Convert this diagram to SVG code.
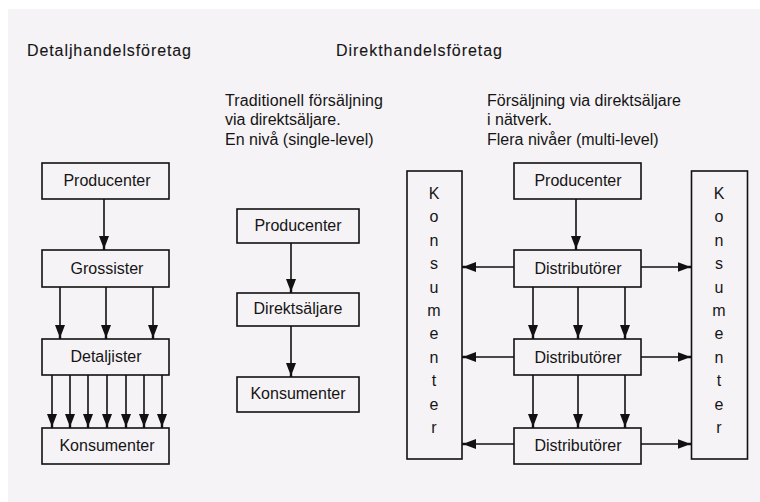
<svg xmlns="http://www.w3.org/2000/svg" width="760" height="502" viewBox="0 0 760 502">
<style>
.box{fill:none;stroke:#111;stroke-width:1.6}
.ln{fill:none;stroke:#111;stroke-width:1.6;marker-end:url(#ah)}
text{font-family:"Liberation Sans",Arial,sans-serif;font-size:16px;fill:#151515}
.c{text-anchor:middle}
.title{font-size:16px;stroke:#151515;stroke-width:0.1}
</style>
<defs>
<marker id="ah" viewBox="0 0 14 11" refX="14" refY="5.5" markerWidth="14" markerHeight="11" markerUnits="userSpaceOnUse" orient="auto">
<path d="M0,0.5 L10,4.3 L14,4.3 L14,6.7 L10,6.7 L0,10.5 Z" fill="#111"/>
</marker>
</defs>
<rect x="0" y="0" width="760" height="502" fill="#ffffff"/>
<rect x="8" y="9" width="752" height="493" fill="#f6f3f6"/>

<text class="title" x="27" y="56" textLength="164" lengthAdjust="spacing">Detaljhandelsföretag</text>
<text class="title" x="336" y="56" textLength="166" lengthAdjust="spacing">Direkthandelsföretag</text>

<g id="text-single">
<text x="225" y="106" textLength="158" lengthAdjust="spacing">Traditionell försäljning</text>
<text x="225" y="125">via direktsäljare.</text>
<text x="225" y="144.5">En nivå (single-level)</text>
</g>
<g id="text-multi">
<text x="487" y="106">Försäljning via direktsäljare</text>
<text x="487" y="124.5">i nätverk.</text>
<text x="487" y="145">Flera nivåer (multi-level)</text>
</g>

<g id="l-producenter"><rect class="box" x="42" y="163" width="127" height="36"/><text class="c" x="107" y="186">Producenter</text></g>
<g id="l-grossister"><rect class="box" x="42" y="250" width="127" height="37"/><text class="c" x="107" y="274">Grossister</text></g>
<g id="l-detaljister"><rect class="box" x="42" y="339" width="127" height="36"/><text class="c" x="106" y="362">Detaljister</text></g>
<g id="l-konsumenter"><rect class="box" x="42" y="428" width="127" height="36"/><text class="c" x="107" y="451">Konsumenter</text></g>

<g id="m-producenter"><rect class="box" x="237" y="209" width="122" height="34"/><text class="c" x="298" y="231">Producenter</text></g>
<g id="m-direktsaljare"><rect class="box" x="237" y="293" width="122" height="33"/><text class="c" x="298" y="314">Direktsäljare</text></g>
<g id="m-konsumenter"><rect class="box" x="237" y="377" width="122" height="35"/><text class="c" x="298" y="399">Konsumenter</text></g>

<g id="r-producenter"><rect class="box" x="514" y="163" width="127" height="36"/><text class="c" x="578" y="186">Producenter</text></g>
<g id="r-dist1"><rect class="box" x="514" y="250" width="127" height="37"/><text class="c" x="578" y="274">Distributörer</text></g>
<g id="r-dist2"><rect class="box" x="514" y="339" width="127" height="36"/><text class="c" x="578" y="363">Distributörer</text></g>
<g id="r-dist3"><rect class="box" x="514" y="428" width="127" height="36"/><text class="c" x="578" y="451">Distributörer</text></g>

<g id="r-konsumenter-left"><rect class="box" x="407" y="171" width="55" height="288"/>
<text class="c" x="434" y="199"><tspan x="434">K</tspan><tspan x="434" dy="23.4">o</tspan><tspan x="434" dy="23.4">n</tspan><tspan x="434" dy="23.4">s</tspan><tspan x="434" dy="23.4">u</tspan><tspan x="434" dy="23.4">m</tspan><tspan x="434" dy="23.4">e</tspan><tspan x="434" dy="23.4">n</tspan><tspan x="434" dy="23.4">t</tspan><tspan x="434" dy="23.4">e</tspan><tspan x="434" dy="23.4">r</tspan></text></g>
<g id="r-konsumenter-right"><rect class="box" x="691.5" y="171" width="56" height="288"/>
<text class="c" x="719" y="199"><tspan x="719">K</tspan><tspan x="719" dy="23.4">o</tspan><tspan x="719" dy="23.4">n</tspan><tspan x="719" dy="23.4">s</tspan><tspan x="719" dy="23.4">u</tspan><tspan x="719" dy="23.4">m</tspan><tspan x="719" dy="23.4">e</tspan><tspan x="719" dy="23.4">n</tspan><tspan x="719" dy="23.4">t</tspan><tspan x="719" dy="23.4">e</tspan><tspan x="719" dy="23.4">r</tspan></text></g>

<g id="connectors">
<path class="ln" d="M104,199 V250"/>
<path class="ln" d="M60,287 V339"/>
<path class="ln" d="M106,287 V339"/>
<path class="ln" d="M153,287 V339"/>
<path class="ln" d="M52,375 V428"/>
<path class="ln" d="M70,375 V428"/>
<path class="ln" d="M88,375 V428"/>
<path class="ln" d="M107,375 V428"/>
<path class="ln" d="M126,375 V428"/>
<path class="ln" d="M144,375 V428"/>
<path class="ln" d="M162,375 V428"/>

<path class="ln" d="M291,243 V293"/>
<path class="ln" d="M291,326 V377"/>

<path class="ln" d="M576,199 V250"/>
<path class="ln" d="M533,287 V339"/>
<path class="ln" d="M578,287 V339"/>
<path class="ln" d="M625,287 V339"/>
<path class="ln" d="M533,375 V428"/>
<path class="ln" d="M578,375 V428"/>
<path class="ln" d="M625,375 V428"/>

<path class="ln" d="M514,267 H462"/>
<path class="ln" d="M514,357 H462"/>
<path class="ln" d="M514,444 H462"/>
<path class="ln" d="M641,267 H691.5"/>
<path class="ln" d="M641,357 H691.5"/>
<path class="ln" d="M641,444 H691.5"/>
</g>
</svg>
